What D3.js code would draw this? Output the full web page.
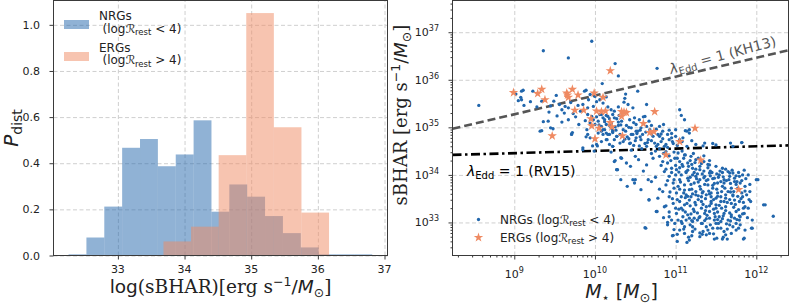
<!DOCTYPE html>
<html><head><meta charset="utf-8">
<script src="https://cdn.jsdelivr.net/npm/d3@7"></script>
<style>body{margin:0;background:#fff}svg{display:block}</style>
</head><body>
<svg id="c" width="789" height="305"></svg>
<script>
// ---------------- DATA ----------------
const histXTicks = [33, 34, 35, 36, 37];
const histYTicks = [0, 0.2, 0.4, 0.6, 0.8, 1.0];
const nrgEdges = [32.26, 32.528, 32.796, 33.064, 33.332, 33.6, 33.868, 34.136, 34.404, 34.672, 34.94, 35.208, 35.476, 35.744, 36.012, 36.28, 36.548, 36.816];
const nrgHeights = [0.005, 0.078, 0.212, 0.467, 0.505, 0.387, 0.438, 0.586, 0.19, 0.308, 0.255, 0.171, 0.097, 0.035, 0.005, 0.005, 0.005];
const ergEdges = [33.684, 34.098, 34.512, 34.926, 35.34, 35.754, 36.168];
const ergHeights = [0.061, 0.125, 0.435, 1.051, 0.556, 0.186];
const massTicks = [9, 10, 11, 12];          // log10 M*
const sbharTicks = [33, 34, 35, 36, 37];    // log10 sBHAR
const kh13Line = [[8.234, 34.97], [12.399, 36.62]];
const rv15Line = [[8.234, 34.42], [12.399, 34.62]];
const ergPoints = [[8.99,35.73],[9.29,35.71],[9.34,35.80],[9.38,35.58],[9.65,35.72],[9.67,35.63],[9.72,35.80],[9.79,35.68],[9.75,35.36],[9.86,35.36],[9.99,35.72],[10.10,35.63],[10.19,36.19],[9.95,35.18],[9.96,35.03],[10.05,34.98],[10.00,34.76],[10.02,35.34],[10.08,35.33],[10.13,35.34],[10.19,35.10],[10.21,35.01],[10.33,35.33],[10.36,35.32],[10.39,35.31],[10.33,35.23],[10.34,34.82],[9.47,34.82],[10.60,35.08],[10.68,34.89],[10.73,34.91],[10.74,35.33],[11.05,34.70],[10.88,34.42],[11.24,34.98],[11.31,34.31],[11.78,33.69],[9.66,35.68]];
const nrgPoints = [
[8.56,35.46],[9.36,36.61],[9.67,36.46],[9.96,36.81],[10.25,36.34],[10.09,35.92],[10.29,36.08],[9.09,35.76],[9.11,35.78],[9.05,35.56],[9.09,35.58],[9.08,35.63],[9.20,35.54],[9.23,35.76],[9.28,35.43],[9.34,35.55],[9.42,35.13],[9.34,34.93],[9.48,34.97],[9.43,35.32],[9.52,35.67],[9.49,35.55],[9.56,35.48],[9.59,35.37],[9.63,35.44],[9.67,35.41],[9.59,35.11],[9.67,35.16],[9.71,34.85],[9.73,35.29],[9.79,35.46],[9.82,35.34],[9.85,35.48],[9.91,35.41],[9.87,35.76],[9.89,35.78],[9.94,35.69],[10.0,35.65],[10.02,35.54],[10.06,35.58],[10.10,35.51],[10.14,35.64],[10.16,35.43],[10.20,35.37],[10.24,35.34],[10.29,35.43],[9.91,35.27],[9.96,35.23],[9.98,35.16],[10.02,35.22],[10.06,35.27],[10.10,35.20],[10.14,35.25],[10.18,35.18],[10.22,35.27],[10.27,35.18],[9.94,35.09],[10.0,35.06],[10.04,35.13],[10.08,35.02],[10.14,35.06],[10.20,35.09],[10.25,35.01],[10.29,35.11],[9.90,34.95],[9.94,34.78],[9.97,34.61],[10.04,34.88],[10.10,34.95],[10.16,34.85],[10.22,34.89],[10.27,34.81],[10.22,34.60],[10.08,34.70],[10.14,34.74],[9.85,34.57],
[10.77,36.24],[10.38,35.70],[10.53,35.76],[10.36,35.53],[10.37,35.61],[10.41,35.48],[10.47,35.41],[10.64,35.48],[10.49,35.20],[10.55,35.16],[10.62,35.23],[10.67,35.13],[11.05,35.37],[11.07,35.25],[11.11,35.16],[11.17,34.95],[10.80,35.02],[10.84,34.92],[10.78,34.85],[10.90,34.85],[10.95,34.78],[11.00,34.81],[11.05,34.74],[11.12,34.93],[11.14,34.92],[11.34,34.61],[11.50,34.63],[11.71,34.60],[11.82,34.68],[10.08,35.27],[10.12,35.16],[10.16,35.23],[10.20,35.09],[10.24,35.20],[10.29,35.04],[10.33,35.13],[10.39,35.04],[10.43,35.16],[10.45,34.99],[10.51,35.06],[10.53,34.92],[10.57,34.99],[10.64,35.02],[10.68,34.95],[10.45,34.85],[10.51,34.78],[10.59,34.85],[10.66,34.74],[10.72,34.81],[10.74,34.67],[10.14,34.88],[10.22,34.95],[10.31,34.85],[10.37,34.75],[10.24,34.74],[10.18,34.64],[10.43,34.66],[10.55,34.61],[10.82,34.70],[10.88,34.64],[10.97,34.66],
[10.22,34.92],[10.31,34.67],[10.44,34.67],[10.57,34.74],[10.64,34.60],[10.78,34.64],[10.80,34.81],[10.92,34.74],[10.95,34.87],[11.09,34.78],[11.17,34.88],[11.25,34.64],[11.36,34.67],[11.46,34.66],[11.68,34.67],[11.82,34.68],[10.10,34.85],[10.15,34.74],[10.47,34.85],[10.51,34.92],
[10.24,34.28],[10.27,34.11],[10.33,34.35],[10.39,34.25],[10.47,33.90],[10.49,33.83],[10.66,33.90],[10.70,33.86],[10.67,33.47],[10.78,33.51],[10.76,33.23],[10.62,32.89],[10.57,33.69],[10.54,34.32],[10.64,34.21],[10.72,34.35],[10.80,34.39],[10.84,34.28],[10.90,34.25],[10.95,34.14],[10.86,34.07],[10.99,34.35],[11.05,34.28],[11.09,34.18],[11.15,34.25],[11.13,34.07],[11.21,34.14],[11.30,34.11],[11.25,33.97],[11.36,33.97],[11.42,34.04],[11.48,33.93],[11.54,34.00],[11.60,33.90],[11.67,33.97],[11.73,33.93],[11.05,33.90],[11.11,33.79],[11.17,33.69],[11.23,33.83],[11.30,33.76],[11.34,33.65],[11.40,33.79],[11.46,33.72],[11.52,33.62],[11.58,33.76],[11.65,33.65],[11.71,33.58],[11.77,33.72],[11.83,33.54],[11.93,33.44],[12.00,33.90],[12.09,33.37],[11.85,33.19],[11.95,33.05],[11.95,32.88],[11.85,32.67],[11.75,32.84],[11.64,32.65],[11.58,32.65],[11.51,32.67],[11.30,32.70],[11.17,32.63],[11.14,32.58],[10.96,32.72],[10.90,32.95],[11.07,33.02],[11.21,33.02],[11.38,32.91],[11.50,32.98],[11.67,32.95],[11.79,33.05],[11.01,33.19],[11.09,33.26],[11.15,33.16],[11.23,33.23],[11.30,33.12],[11.36,33.19],[11.42,33.09],[11.48,33.19],[11.54,33.12],[11.60,33.19],[11.69,33.12],[11.75,33.23],[10.97,33.40],[11.05,33.44],[11.11,33.37],[11.17,33.47],[11.25,33.37],[11.32,33.44],[11.38,33.33],[11.44,33.44],[11.50,33.37],[11.56,33.44],[11.62,33.33],[11.69,33.40],[11.01,33.62],[11.07,33.54],[11.13,33.58],[11.19,33.54],[11.25,33.58],[11.32,33.54],[11.38,33.58],[11.44,33.54],[11.50,33.51],[11.56,33.54],[11.62,33.51],[10.97,33.83],[11.03,33.76],[11.07,34.00],[11.01,34.11],[10.92,33.97],[10.88,33.79],[10.84,33.65],[10.92,33.54],[10.86,33.33],[10.92,33.12],[10.99,32.98],[11.05,32.84],[11.11,32.77],[11.21,32.81],[11.34,32.81],[11.42,32.77],[11.60,32.81],[11.69,32.77],[11.21,32.91],[11.46,32.88],[11.71,32.91],[11.11,32.91],[11.86,33.33],[11.88,33.58],[11.80,33.83],[11.86,33.76],[11.73,33.47],[11.79,33.44],[11.35,34.28],[11.42,34.21],[11.50,34.18],[11.58,34.14],[11.25,34.32],[11.19,34.39],[11.11,34.42],[11.03,34.46],[10.88,34.49],[11.65,34.07],[11.71,34.04],[11.79,33.97],[11.73,33.86],[11.60,33.83],[11.69,33.72],[11.40,33.90],[11.52,33.83],[11.30,33.90],[11.15,33.93],[11.21,34.00],[11.42,33.23],[11.50,33.30],[11.23,33.09],[11.17,33.09],[11.32,32.98],[11.56,33.02],[11.65,33.05],[11.73,33.09],[11.80,32.95],[11.86,32.84],[11.56,32.88],[11.38,32.74],
[11.05,33.70],[11.10,33.62],[11.15,33.55],[11.20,33.70],[11.25,33.65],[11.28,33.48],[11.33,33.62],[11.37,33.50],[11.42,33.60],[11.47,33.48],[11.52,33.55],[11.57,33.65],[11.62,33.58],[11.67,33.48],[11.72,33.65],[11.77,33.55],[11.82,33.62],[11.07,33.30],[11.12,33.22],[11.18,33.35],[11.22,33.28],[11.27,33.20],[11.32,33.30],[11.37,33.25],[11.42,33.35],[11.47,33.28],[11.52,33.22],[11.57,33.30],[11.62,33.25],[11.67,33.20],[11.72,33.32],[11.78,33.27],[11.83,33.18],[11.03,33.05],[11.08,32.98],[11.13,33.05],[11.18,32.95],[11.27,33.05],[11.33,32.98],[11.38,33.08],[11.43,32.95],[11.48,33.05],[11.53,32.98],[11.58,33.08],[11.63,32.97],[11.68,33.03],[11.75,32.98],[11.80,33.12],[11.13,34.05],[11.18,33.95],[11.23,34.05],[11.28,33.85],[11.33,34.02],[11.38,33.88],[11.43,33.98],[11.48,33.82],[11.53,33.95],[11.58,34.05],[11.63,33.88],[11.68,33.82],[11.75,33.80],[11.82,33.88],[11.87,33.92],[11.90,34.00],[11.92,33.65],[11.90,33.30],[10.95,34.05],[10.98,33.90],[10.90,33.88],[11.00,34.20],[11.05,34.15],[11.10,34.35],[11.15,34.10],[11.20,34.22],[11.25,34.12],[11.30,34.18],[11.35,34.08],[11.40,34.15],[11.45,34.05],[11.55,34.08],[11.62,34.12],[11.70,34.10],[11.78,34.05],[11.85,34.10],[10.85,34.45],[10.92,34.40],[10.98,34.48],[11.02,34.35],[11.08,34.50],[11.12,34.42],[11.18,34.30],[11.22,34.45],[11.28,34.35],[11.35,34.40],[11.42,34.30],[10.80,34.55],[10.86,34.60],[10.75,34.50],[10.70,34.45],[10.65,34.68],[10.58,34.55],[10.50,34.72],[10.45,34.52],[10.40,34.80],[10.35,34.95],[10.30,35.25],[10.20,35.00],[10.12,34.95],[10.05,35.05],
[10.88,33.35],[10.92,33.22],[10.85,33.10],[10.80,33.70],[10.75,33.95],[10.95,33.05],[10.98,32.85],[11.02,32.75],
[12.02,33.90],[12.11,33.37],[11.94,32.88],[11.84,32.65],[12.21,33.13],[10.67,33.48],[10.63,32.88],[10.77,33.23],[10.97,32.73],[11.02,32.60],[11.16,32.69],[11.33,32.75],[11.48,32.65],[11.59,32.69],
[9.36,35.12],[9.45,34.99],[9.72,34.89],[9.91,34.85],[10.03,34.61],[9.99,34.50],[10.20,34.48],[10.32,34.36],[10.28,34.11],[10.32,33.90],[10.40,33.76],[10.50,33.90],[10.44,34.18],[10.60,34.08],[10.50,34.39],
[9.32,34.92],[9.71,34.86],[9.89,34.80],[10.02,34.64],[10.08,34.92],[10.18,34.85],[10.22,34.60],[10.27,34.81],[10.25,34.30],[10.27,34.11],[9.85,34.53],
[11.02,33.48],[11.06,33.85],[11.09,33.12],[11.11,33.68],[11.14,33.40],[11.16,33.88],[11.19,33.18],[11.21,33.60],[11.24,33.42],[11.26,33.92],[11.29,33.10],[11.31,33.70],[11.34,33.38],[11.36,33.80],[11.39,33.15],[11.41,33.66],[11.44,33.40],[11.46,33.92],[11.49,33.12],[11.51,33.70],[11.54,33.36],[11.56,33.86],[11.59,33.14],[11.61,33.72],[11.64,33.42],[11.66,33.90],[11.69,33.16],[11.71,33.56],[11.74,33.38],[11.76,33.86],[11.79,33.14],[11.81,33.50],[11.84,33.42],[11.86,33.66],[11.89,33.10],[11.91,33.48],
[11.04,33.28],[11.12,33.52],[11.20,33.04],[11.28,33.56],[11.36,33.04],[11.44,33.62],[11.52,33.06],[11.60,33.44],[11.68,33.64],[11.76,33.06],[11.84,33.30],[11.92,33.80],
[11.08,34.22],[11.16,34.18],[11.24,34.26],[11.32,34.24],[11.40,34.22],[11.27,34.02],[11.35,33.94],[11.43,34.08],[11.51,34.02],[11.59,33.96],[11.67,34.04],[11.75,33.98],[11.83,34.00],[11.19,33.80],[11.46,33.78],
[11.10,32.86],[11.24,32.86],[11.40,32.84],[11.52,32.88],[11.64,32.86],[11.78,32.88],[11.30,32.78],[11.47,32.76],[11.62,32.74],[11.20,32.72],
[10.35,34.70],[10.42,34.76],[10.48,34.62],[10.56,34.80],[10.62,34.66],[10.70,34.72],[10.76,34.60],[10.84,34.76],[10.90,34.58],[10.96,34.70],[11.02,34.62],[11.08,34.70],[11.14,34.60],[11.20,34.72],[10.38,34.92],[10.48,35.10],[10.56,34.94],[10.60,35.22],[10.70,35.04],[10.76,34.96],[10.85,35.06],[10.92,34.94],[11.00,34.95],[10.26,34.94],[10.18,35.04],[10.12,35.12],[10.32,35.05],[10.42,35.00],[10.52,34.87],[10.63,34.90],[10.70,34.86],[10.82,34.86],
[10.82,34.20],[10.88,34.12],[10.94,34.30],[11.00,34.00],[11.04,34.06],[10.98,33.72],[10.93,33.64],[11.00,33.30],[10.96,33.50],[10.90,33.00],
[9.62,35.30],[9.76,35.22],[9.80,35.06],[9.88,35.14],[9.70,35.52],[9.92,35.58],[9.98,35.44],[9.53,35.24],[9.45,35.45],[9.12,35.46],[9.02,35.70]
];

// ---------------- SETUP ----------------
const svg = d3.select("#c");
const SANS = "DejaVu Sans", SERIF = "DejaVu Serif";
const INK = "#222", SPINE = "#3a3a3a", GRID = "#cfcfcf";
const BLUE = "#2166ac", PINK = "#ef8a62";

function rich(sel, parts) {
  let cur = 0;
  parts.forEach(p => {
    const ts = sel.append("tspan").text(p.t);
    const target = p.dy || 0;
    if (target !== cur) ts.attr("dy", target - cur);
    cur = target;
    ts.style("font-family", p.f || SANS);
    if (p.s) ts.style("font-size", p.s + "px");
    if (p.i) ts.style("font-style", "italic");
    if (p.dx) ts.attr("dx", p.dx);
  });
}

// ================= LEFT PANEL =================
const L = {x0: 53.5, x1: 387.5, y0: 255.5, y1: 0.5};
const xL = d3.scaleLinear().domain([32.034, 37.045]).range([L.x0, L.x1]);
const yL = d3.scaleLinear().domain([0, 1.1055]).range([L.y0, L.y1]);

const gL = svg.append("g");
// grid
gL.append("g").call(d3.axisBottom(xL).tickValues(histXTicks).tickSize(-(L.y0 - L.y1)).tickFormat(""))
  .attr("transform", `translate(0,${L.y0})`)
  .call(g => { g.select(".domain").remove(); g.selectAll("line").attr("stroke", GRID).attr("stroke-dasharray", "4,2.5"); });
gL.append("g").call(d3.axisLeft(yL).tickValues(histYTicks).tickSize(-(L.x1 - L.x0)).tickFormat(""))
  .attr("transform", `translate(${L.x0},0)`)
  .call(g => { g.select(".domain").remove(); g.selectAll("line").attr("stroke", GRID).attr("stroke-dasharray", "4,2.5"); });

// bars
gL.append("g").selectAll("rect").data(nrgHeights).join("rect")
  .attr("x", (d, i) => xL(nrgEdges[i])).attr("width", (d, i) => xL(nrgEdges[i + 1]) - xL(nrgEdges[i]))
  .attr("y", d => yL(d)).attr("height", d => yL(0) - yL(d))
  .attr("fill", BLUE).attr("fill-opacity", 0.5);
gL.append("g").selectAll("rect").data(ergHeights).join("rect")
  .attr("x", (d, i) => xL(ergEdges[i])).attr("width", (d, i) => xL(ergEdges[i + 1]) - xL(ergEdges[i]))
  .attr("y", d => yL(d)).attr("height", d => yL(0) - yL(d))
  .attr("fill", PINK).attr("fill-opacity", 0.5);

// axes ticks
gL.append("g").attr("transform", `translate(0,${L.y0})`)
  .call(d3.axisBottom(xL).tickValues(histXTicks).tickSize(4).tickFormat(""))
  .call(g => { g.select(".domain").remove(); g.selectAll("line").attr("stroke", SPINE); });
gL.append("g").attr("transform", `translate(${L.x0},0)`)
  .call(d3.axisLeft(yL).tickValues(histYTicks).tickSize(4).tickFormat(""))
  .call(g => { g.select(".domain").remove(); g.selectAll("line").attr("stroke", SPINE); });
// tick labels
gL.append("g").selectAll("text").data(histXTicks).join("text")
  .attr("x", d => xL(d)).attr("y", 273).attr("text-anchor", "middle")
  .style("font-family", SANS).style("font-size", "11px").attr("fill", INK).text(d => d);
gL.append("g").selectAll("text").data(histYTicks).join("text")
  .attr("x", 40).attr("y", d => yL(d) + 4).attr("text-anchor", "end")
  .style("font-family", SANS).style("font-size", "11px").attr("fill", INK).text(d => d3.format(".1f")(d));
// spines
gL.append("rect").attr("x", L.x0).attr("y", L.y1).attr("width", L.x1 - L.x0).attr("height", L.y0 - L.y1)
  .attr("fill", "none").attr("stroke", SPINE).attr("stroke-width", 1);

// legend left
gL.append("rect").attr("x", 64).attr("y", 20).attr("width", 25).attr("height", 9).attr("fill", BLUE).attr("fill-opacity", 0.5);
gL.append("rect").attr("x", 64).attr("y", 52).attr("width", 25).attr("height", 9).attr("fill", PINK).attr("fill-opacity", 0.5);
[["NRGs", "<", 20, 32.5], ["ERGs", ">", 51.7, 64]].forEach(([name, op, b1, b2]) => {
  gL.append("text").attr("x", 99).attr("y", b1).style("font-family", SANS).style("font-size", "12px").attr("fill", INK).text(name);
  const t = gL.append("text").attr("x", 102.5).attr("y", b2).style("font-size", "12px").attr("fill", INK);
  rich(t, [{t: "(log"}, {t: "ℛ"}, {t: "rest", s: 8.5, dy: 2.5}, {t: " " + op + " 4)", dy: 0}]);
});

// axis labels left
{
  const t = svg.append("text").attr("x", 220.5).attr("y", 293).attr("text-anchor", "middle")
    .style("font-size", "18.5px").attr("fill", INK);
  rich(t, [{t: "log", f: SANS}, {t: "(sBHAR)[erg s", f: SERIF}, {t: "−1", s: 12.5, dy: -7}, {t: "/", dy: 0},
           {t: "M", i: true}, {t: "⊙", s: 12.5, dy: 4}, {t: "]", f: SERIF, dy: 0}]);
  const p = svg.append("text").attr("transform", "translate(17.5,128) rotate(-90)").attr("text-anchor", "middle")
    .style("font-size", "20px").attr("fill", INK);
  rich(p, [{t: "P", i: true}, {t: "dist", s: 14, dy: 4}]);
}

// ================= RIGHT PANEL =================
const R = {x0: 452.5, x1: 788.5, y0: 255.5, y1: 0.5};
const xR = d3.scaleLog().domain([Math.pow(10, 8.234), Math.pow(10, 12.399)]).range([R.x0, R.x1]);
const yR = d3.scaleLog().domain([Math.pow(10, 32.305), Math.pow(10, 37.667)]).range([R.y0, R.y1]);
const majX = massTicks.map(e => Math.pow(10, e));
const majY = sbharTicks.map(e => Math.pow(10, e));
function minors(scale, lo, hi) {
  const out = [];
  const [a, b] = scale.domain();
  for (let e = lo; e <= hi; e++) for (let m = 2; m <= 9; m++) { const v = m * Math.pow(10, e); if (v >= a && v <= b) out.push(v); }
  return out;
}
const minX = minors(xR, 8, 12), minY = minors(yR, 32, 37);

const gR = svg.append("g");
gR.append("defs").append("clipPath").attr("id", "clipR").append("rect")
  .attr("x", R.x0).attr("y", R.y1).attr("width", R.x1 - R.x0).attr("height", R.y0 - R.y1);
// grid
gR.append("g").attr("transform", `translate(0,${R.y0})`)
  .call(d3.axisBottom(xR).tickValues(majX).tickSize(-(R.y0 - R.y1)).tickFormat(""))
  .call(g => { g.select(".domain").remove(); g.selectAll("line").attr("stroke", GRID).attr("stroke-dasharray", "4,2.5"); });
gR.append("g").attr("transform", `translate(${R.x0},0)`)
  .call(d3.axisLeft(yR).tickValues(majY).tickSize(-(R.x1 - R.x0)).tickFormat(""))
  .call(g => { g.select(".domain").remove(); g.selectAll("line").attr("stroke", GRID).attr("stroke-dasharray", "4,2.5"); });

const plot = gR.append("g").attr("clip-path", "url(#clipR)");
// lines
const lineGen = d3.line().x(d => xR(Math.pow(10, d[0]))).y(d => yR(Math.pow(10, d[1])));
plot.append("path").attr("d", lineGen(kh13Line)).attr("fill", "none").attr("stroke", "#555")
  .attr("stroke-width", 2.6).attr("stroke-dasharray", "8,4");
plot.append("path").attr("d", lineGen(rv15Line)).attr("fill", "none").attr("stroke", "#000")
  .attr("stroke-width", 2.6).attr("stroke-dasharray", "9,3.5,2.5,3.5");
// points
plot.append("g").selectAll("circle").data(nrgPoints).join("circle")
  .attr("cx", d => xR(Math.pow(10, d[0]))).attr("cy", d => yR(Math.pow(10, d[1])))
  .attr("r", 1.65).attr("fill", BLUE);
const star = d3.symbol().type(d3.symbolStar).size(28);
plot.append("g").selectAll("path").data(ergPoints).join("path")
  .attr("transform", d => `translate(${xR(Math.pow(10, d[0]))},${yR(Math.pow(10, d[1]))})`)
  .attr("d", star).attr("fill", PINK);

// ticks
function tickAxis(axis, tr) {
  gR.append("g").attr("transform", tr).call(axis)
    .call(g => { g.select(".domain").remove(); g.selectAll("line").attr("stroke", SPINE); });
}
tickAxis(d3.axisBottom(xR).tickValues(majX).tickSize(4).tickFormat(""), `translate(0,${R.y0})`);
tickAxis(d3.axisBottom(xR).tickValues(minX).tickSize(2).tickFormat(""), `translate(0,${R.y0})`);
tickAxis(d3.axisLeft(yR).tickValues(majY).tickSize(4).tickFormat(""), `translate(${R.x0},0)`);
tickAxis(d3.axisLeft(yR).tickValues(minY).tickSize(2).tickFormat(""), `translate(${R.x0},0)`);
// tick labels
massTicks.forEach(e => {
  const t = gR.append("text").attr("x", xR(Math.pow(10, e))).attr("y", 278).attr("text-anchor", "middle")
    .style("font-size", "11px").attr("fill", INK);
  rich(t, [{t: "10"}, {t: String(e), s: 8, dy: -5}]);
});
sbharTicks.forEach(e => {
  const t = gR.append("text").attr("x", 439).attr("y", yR(Math.pow(10, e)) + 4).attr("text-anchor", "end")
    .style("font-size", "11px").attr("fill", INK);
  rich(t, [{t: "10"}, {t: String(e), s: 8, dy: -5}]);
});
gR.append("rect").attr("x", R.x0).attr("y", R.y1).attr("width", R.x1 - R.x0).attr("height", R.y0 - R.y1)
  .attr("fill", "none").attr("stroke", SPINE).attr("stroke-width", 1);

// line labels
{
  const t = gR.append("text").attr("transform", "translate(671,74) rotate(-15)")
    .style("font-size", "14px").attr("fill", "#555");
  rich(t, [{t: "λ", i: true}, {t: "Edd", s: 10, dy: 3}, {t: " = 1 (KH13)", dy: 0}]);
  const t2 = gR.append("text").attr("x", 467).attr("y", 176).style("font-size", "14px").attr("fill", "#000");
  rich(t2, [{t: "λ", i: true}, {t: "Edd", s: 10, dy: 3}, {t: " = 1 (RV15)", dy: 0}]);
}

// legend right
gR.append("circle").attr("cx", 478.5).attr("cy", 219.5).attr("r", 1.65).attr("fill", BLUE);
gR.append("path").attr("transform", "translate(478.5,237.5)").attr("d", star).attr("fill", PINK);
[["NRGs", "<", 223.8], ["ERGs", ">", 241.8]].forEach(([name, op, b]) => {
  const t = gR.append("text").attr("x", 500).attr("y", b).style("font-size", "12px").attr("fill", INK);
  rich(t, [{t: name + " (log"}, {t: "ℛ"}, {t: "rest", s: 8.5, dy: 2.5}, {t: " " + op + " 4)", dy: 0}]);
});

// axis labels right
{
  const t = svg.append("text").attr("x", 621.5).attr("y", 297.5).attr("text-anchor", "middle")
    .style("font-size", "19px").attr("fill", INK);
  rich(t, [{t: "M", i: true}, {t: "⋆", s: 13, dy: 4}, {t: "  [", dy: 0}, {t: "M", i: true}, {t: "⊙", s: 13, dy: 4}, {t: "]", dy: 0}]);
  const y = svg.append("text").attr("transform", "translate(406.5,115) rotate(-90)").attr("text-anchor", "middle")
    .style("font-size", "18px").attr("fill", INK);
  rich(y, [{t: "sBHAR [erg s", f: SERIF}, {t: "−1", s: 12.5, dy: -7}, {t: "/", dy: 0},
           {t: "M", i: true}, {t: "⊙", s: 12.5, dy: 4}, {t: "]", f: SERIF, dy: 0}]);
}
</script>
</body></html>
